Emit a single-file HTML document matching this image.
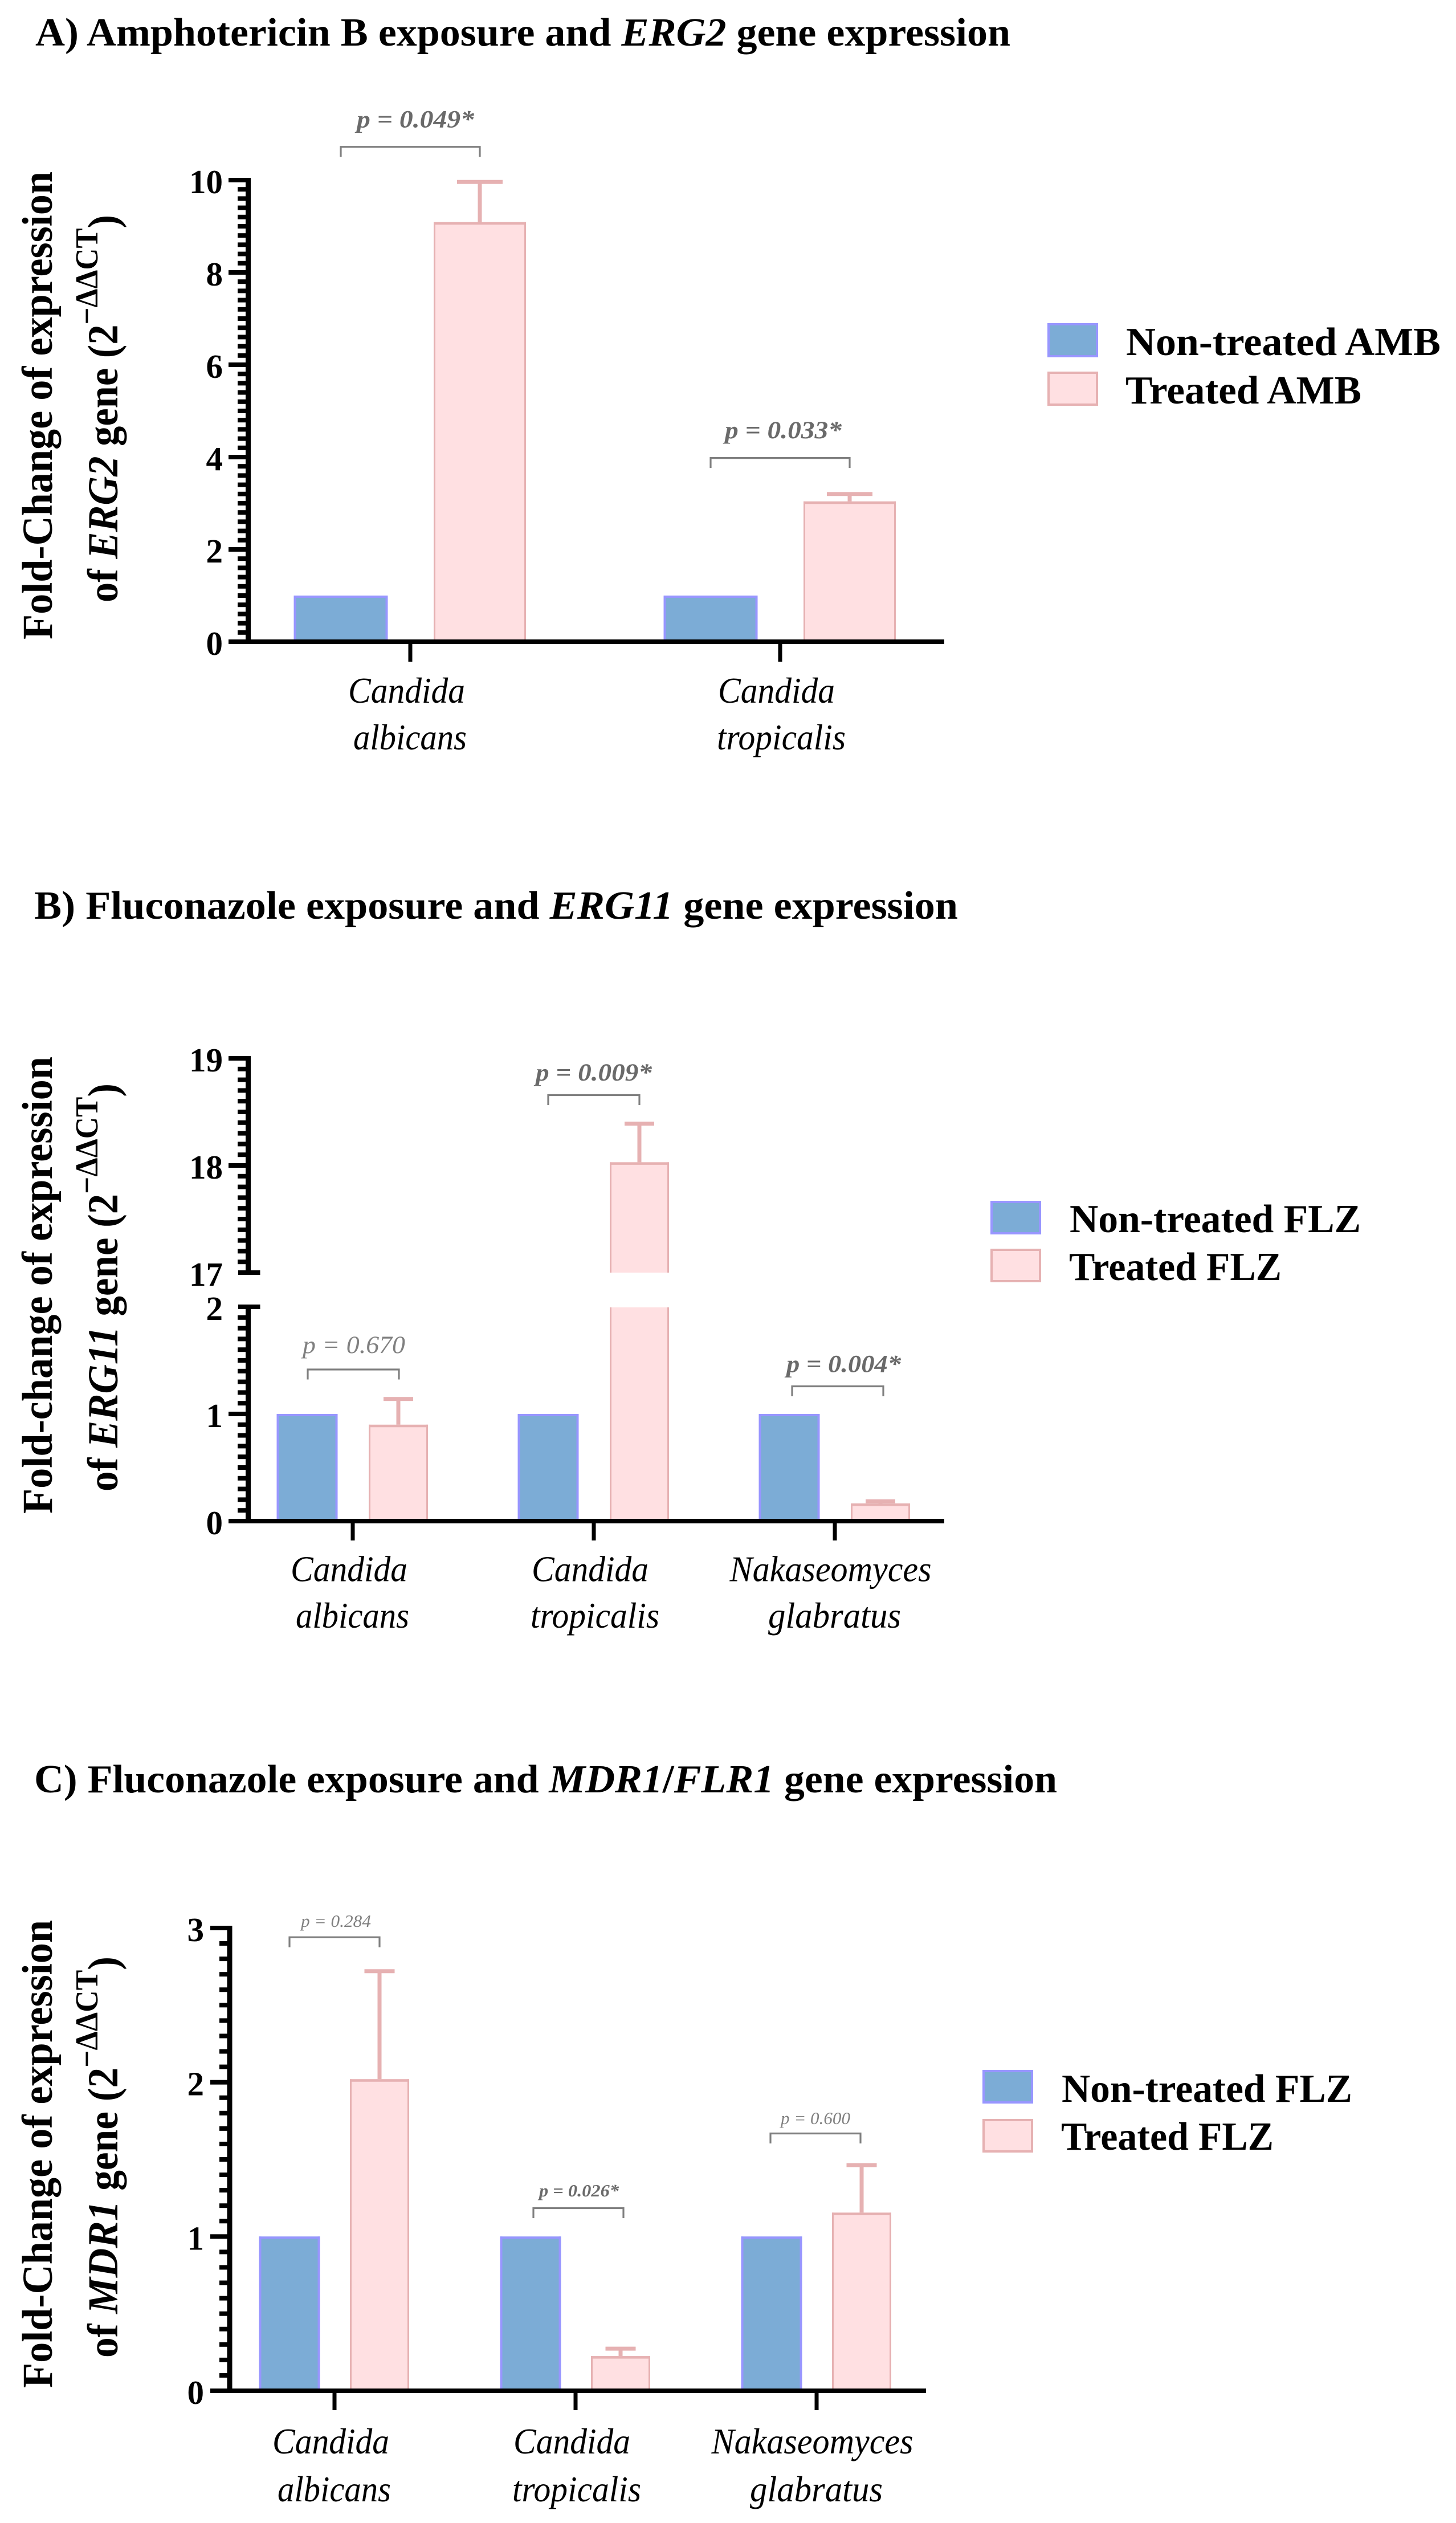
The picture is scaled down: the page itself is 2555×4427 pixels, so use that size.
<!DOCTYPE html>
<html lang="en">
<head>
<meta charset="utf-8">
<title>Gene expression fold-change charts</title>
<style>
html,body{margin:0;padding:0;background:#fff;}
svg{display:block;}
text{font-family:"Liberation Serif",serif;fill:#000;}
.head{font-size:70px;font-weight:bold;}
.ytitle{font-size:75px;font-weight:bold;}
.legend-text{font-size:70px;font-weight:bold;}
</style>
</head>
<body>
<svg id="figure" xmlns="http://www.w3.org/2000/svg" width="2555" height="4427" viewBox="0 0 2555 4427">
  <rect x="0" y="0" width="2555" height="4427" fill="#fff"/>

  <text class="head" x="62" y="80" textLength="1711" lengthAdjust="spacingAndGlyphs">A) Amphotericin B exposure and <tspan font-style="italic">ERG2</tspan> gene expression</text>
  <text class="head" x="60" y="1612" textLength="1621" lengthAdjust="spacingAndGlyphs">B) Fluconazole exposure and <tspan font-style="italic">ERG11</tspan> gene expression</text>
  <text class="head" x="60" y="3145" textLength="1795" lengthAdjust="spacingAndGlyphs">C) Fluconazole exposure and <tspan font-style="italic">MDR1</tspan>/<tspan font-style="italic">FLR1</tspan> gene expression</text>

  <text class="ytitle" transform="translate(91,1122) rotate(-90)" textLength="821" lengthAdjust="spacingAndGlyphs">Fold-Change of expression</text>
  <text class="ytitle" transform="translate(206,1057) rotate(-90)" textLength="680" lengthAdjust="spacingAndGlyphs">of <tspan font-style="italic">ERG2</tspan> gene (2<tspan dy="-35" font-size="56">−ΔΔCT</tspan><tspan dy="35">)</tspan></text>

  <text class="ytitle" transform="translate(91,2656) rotate(-90)" textLength="802" lengthAdjust="spacingAndGlyphs">Fold-change of expression</text>
  <text class="ytitle" transform="translate(206,2617) rotate(-90)" textLength="716" lengthAdjust="spacingAndGlyphs">of <tspan font-style="italic">ERG11</tspan> gene (2<tspan dy="-35" font-size="56">−ΔΔCT</tspan><tspan dy="35">)</tspan></text>

  <text class="ytitle" transform="translate(91,4190) rotate(-90)" textLength="821" lengthAdjust="spacingAndGlyphs">Fold-Change of expression</text>
  <text class="ytitle" transform="translate(206,4137) rotate(-90)" textLength="704" lengthAdjust="spacingAndGlyphs">of <tspan font-style="italic">MDR1</tspan> gene (2<tspan dy="-35" font-size="56">−ΔΔCT</tspan><tspan dy="35">)</tspan></text>

  <g>
    <rect x="1840" y="569" width="85" height="56" fill="#7CACD6" stroke="#9896FF" stroke-width="4"/>
    <text class="legend-text" x="1976" y="623" textLength="552" lengthAdjust="spacingAndGlyphs">Non-treated AMB</text>
    <rect x="1840" y="654" width="85" height="56" fill="#FFE0E2" stroke="#E6B1B2" stroke-width="4"/>
    <text class="legend-text" x="1975" y="708" textLength="414" lengthAdjust="spacingAndGlyphs">Treated AMB</text>
  </g>
  <g>
    <rect x="1740" y="2109" width="85" height="55" fill="#7CACD6" stroke="#9896FF" stroke-width="4"/>
    <text class="legend-text" x="1877" y="2162" textLength="511" lengthAdjust="spacingAndGlyphs">Non-treated FLZ</text>
    <rect x="1740" y="2193" width="85" height="55" fill="#FFE0E2" stroke="#E6B1B2" stroke-width="4"/>
    <text class="legend-text" x="1876" y="2246" textLength="373" lengthAdjust="spacingAndGlyphs">Treated FLZ</text>
  </g>
  <g>
    <rect x="1726" y="3634" width="85" height="55" fill="#7CACD6" stroke="#9896FF" stroke-width="4"/>
    <text class="legend-text" x="1863" y="3688" textLength="510" lengthAdjust="spacingAndGlyphs">Non-treated FLZ</text>
    <rect x="1726" y="3720" width="85" height="55" fill="#FFE0E2" stroke="#E6B1B2" stroke-width="4"/>
    <text class="legend-text" x="1862" y="3772" textLength="373" lengthAdjust="spacingAndGlyphs">Treated FLZ</text>
  </g>
</svg>

<script>
// ---- Panel A data ----
const categoriesA = ['Candida albicans', 'Candida tropicalis'];
const controlA = [1, 1];
const treatedA = [9.09, 3.04];
const errorTopA = [9.96, 3.2];
const bracketLevelA = [10.72, 3.98];
const pLabelsA = ['p = 0.049*', 'p = 0.033*'];
const tickLabelsA = [0, 2, 4, 6, 8, 10];

// ---- Panel B data ----
const categoriesB = ['Candida albicans', 'Candida tropicalis', 'Nakaseomyces glabratus'];
const controlB = [1, 1, 1];
const treatedB = [0.9, 18.03, 0.165];
const errorTopB = [1.14, 18.39, 0.185];
const bracketLevelB = [1.415, 18.657, 1.258];
const pLabelsB = ['p = 0.670', 'p = 0.009*', 'p = 0.004*'];
const tickLabelsB = [0, 1, 2, 17, 18, 19];

// ---- Panel C data ----
const categoriesC = ['Candida albicans', 'Candida tropicalis', 'Nakaseomyces glabratus'];
const controlC = [1, 1, 1];
const treatedC = [2.02, 0.225, 1.155];
const errorTopC = [2.72, 0.273, 1.463];
const bracketLevelC = [2.94, 1.184, 1.668];
const pLabelsC = ['p = 0.284', 'p = 0.026*', 'p = 0.600'];
const tickLabelsC = [0, 1, 2, 3];

// ---- Layout (not data) ----
const NS = 'http://www.w3.org/2000/svg';
const figure = document.getElementById('figure');
const BLUE = '#7CACD6', BLUE_EDGE = '#9896FF', PINK = '#FFE0E2', PINK_EDGE = '#E6B1B2', BRACKET = '#7F7F7F';
const wordFit = {
  Candida: { dx: -6.5, w: 205 },
  albicans: { dx: -0.5, w: 199 },
  tropicalis: { dx: 2, w: 226 },
  Nakaseomyces: { dx: -7.5, w: 354 },
  glabratus: { dx: -0.5, w: 233 }
};

function make(tag, attrs, parent) {
  const el = document.createElementNS(NS, tag);
  Object.keys(attrs).forEach(function (k) { el.setAttribute(k, attrs[k]); });
  parent.appendChild(el);
  return el;
}
function label(el, name) {
  
  
  return el;
}

function drawBarBody(parent, cx, w, top, bottom, fill, edge, edgeW, withTop, topThick) {
  const x = cx - w / 2;
  make('rect', { x: x, y: top, width: w, height: bottom - top, fill: fill }, parent);
  make('rect', { x: x, y: top, width: edgeW, height: bottom - top, fill: edge }, parent);
  make('rect', { x: x + w - edgeW, y: top, width: edgeW, height: bottom - top, fill: edge }, parent);
  if (withTop) {
    make('rect', { x: x, y: top, width: w, height: topThick, fill: edge }, parent);
  }
}

function drawChart(cfg) {
  const root = label(make('g', {}, figure), cfg.name + '-chart');
  const y = cfg.y;
  const tickX = function (i) { return cfg.x0 + i * cfg.step; };
  const barBottom = y(0) - 3;

  cfg.categories.forEach(function (cat, i) {
    const c = tickX(i);
    const group = label(make('g', {}, root), cfg.name + '-group-' + cat.toLowerCase().replace(/\s+/g, '-'));

    // control bar
    const bc = label(make('g', {}, group), 'bar-non-treated');
    drawBarBody(bc, c - cfg.off, cfg.barW, y(cfg.control[i]), barBottom, BLUE, BLUE_EDGE, 4, true, 4);

    // treated bar (split across the axis break when needed)
    const bt = label(make('g', {}, group), 'bar-treated');
    const px = c + cfg.off;
    const v = cfg.treated[i];
    const pw = cfg.barW - 3;
    if (cfg.breakHigh !== undefined && v >= cfg.breakHigh) {
      drawBarBody(bt, px, pw, y(cfg.breakLow) + 1, barBottom, PINK, PINK_EDGE, 3, false, 0);
      drawBarBody(bt, px, pw, y(v), y(cfg.breakHigh), PINK, PINK_EDGE, 3, true, 4.5);
    } else {
      drawBarBody(bt, px, pw, y(v), barBottom, PINK, PINK_EDGE, 3, true, 4.5);
    }

    // error bar
    const eb = label(make('g', {}, group), 'error-bar-treated');
    const et = y(cfg.errorTop[i]);
    make('rect', { x: px - 3.5, y: et, width: 7, height: y(v) - et, fill: PINK_EDGE }, eb);
    make('rect', { x: px - cfg.capW / 2, y: et - 3.5, width: cfg.capW, height: 7, fill: PINK_EDGE }, eb);

    // significance bracket
    const fit = cfg.pFit[i];
    const by = y(cfg.bracket[i]);
    const bl = c - cfg.off + fit.bx;
    const br = c + cfg.off + fit.bx;
    const bracket = make('path', {
      d: 'M' + bl + ' ' + (by + 17.5) + 'V' + by + 'H' + br + 'V' + (by + 17.5),
      fill: 'none', stroke: BRACKET, 'stroke-width': 3.2
    }, group);
    label(bracket, 'significance-bracket');

    const pt = make('text', {
      x: c + fit.dx, y: by - fit.dy, 'text-anchor': 'middle',
      'font-size': cfg.pSize, 'font-style': 'italic', 'font-weight': fit.bold ? 'bold' : 'normal',
      textLength: fit.w, lengthAdjust: 'spacingAndGlyphs'
    }, group);
    pt.style.fill = fit.bold ? '#6A6A6A' : '#808080';
    pt.textContent = cfg.pLabels[i];
    label(pt, 'p-value-label');

    // x tick + category label
    const xt = make('rect', { x: c - 3.5, y: y(0), width: 7, height: cfg.xTickEnd - y(0), fill: '#000' }, group);
    label(xt, 'x-axis-tick');
    cat.split(' ').forEach(function (word, j) {
      const f = wordFit[word];
      const t = make('text', {
        x: c + f.dx, y: y(0) + cfg.catOffsets[j], 'text-anchor': 'middle',
        'font-size': 64, 'font-style': 'italic', textLength: f.w, lengthAdjust: 'spacingAndGlyphs'
      }, group);
      t.textContent = word;
      label(t, 'x-axis-category-label');
    });
  });

  // y axis
  const axis = label(make('g', {}, root), cfg.name + '-y-axis');
  cfg.segments.forEach(function (seg) {
    make('rect', { x: cfg.spineX - 4.5, y: y(seg.to) - 4, width: 9, height: y(seg.from) - y(seg.to) + 8, fill: '#000' }, axis);
    const count = Math.round((seg.to - seg.from) / seg.step);
    for (let k = 0; k <= count; k++) {
      const v = seg.from + k * seg.step;
      const isMajor = cfg.ticks.some(function (m) { return Math.abs(m - v) < 1e-6; });
      if (!isMajor) {
        make('rect', { x: cfg.minorLeft, y: y(v) - 4, width: cfg.spineX - cfg.minorLeft, height: 8, fill: '#000' }, axis);
      }
    }
  });
  cfg.ticks.forEach(function (v) {
    const isBreakEnd = cfg.breakHigh !== undefined && (v === cfg.breakHigh || v === cfg.breakLow);
    const tickLeft = isBreakEnd ? cfg.minorLeft + 1 : cfg.majorLeft;
    const tickRight = isBreakEnd ? cfg.spineX + 21 : cfg.spineX;
    const tick = make('rect', { x: tickLeft, y: y(v) - 4, width: tickRight - tickLeft, height: 8, fill: '#000' }, axis);
    label(tick, 'y-axis-tick');
    const t = make('text', {
      x: cfg.labelRight, y: y(v) + 23, 'text-anchor': 'end', 'font-size': 59, 'font-weight': 'bold'
    }, axis);
    t.textContent = String(v);
    label(t, 'y-axis-tick-label');
  });

  // x axis line
  const xAxis = make('rect', { x: cfg.majorLeft, y: y(0) - 4, width: cfg.xEnd - cfg.majorLeft, height: 8, fill: '#000' }, root);
  label(xAxis, cfg.name + '-x-axis');
}

drawChart({
  name: 'panel-a', categories: categoriesA, control: controlA, treated: treatedA,
  errorTop: errorTopA, bracket: bracketLevelA, pLabels: pLabelsA, ticks: tickLabelsA,
  y: function (v) { return 1126 - v * 81; },
  segments: [{ from: 0, to: 10, step: 0.2 }],
  x0: 720, step: 649, off: 122, barW: 165, capW: 80,
  spineX: 435.5, majorLeft: 401, minorLeft: 417, labelRight: 391, xEnd: 1657, xTickEnd: 1161,
  catOffsets: [107, 189], pSize: 43,
  pFit: [
    { dx: 9, dy: 34, w: 206, bx: 0, bold: true },
    { dx: 5.5, dy: 34.5, w: 205, bx: 0, bold: true }
  ]
});

drawChart({
  name: 'panel-b', categories: categoriesB, control: controlB, treated: treatedB,
  errorTop: errorTopB, bracket: bracketLevelB, pLabels: pLabelsB, ticks: tickLabelsB,
  y: function (v) { return v >= 17 ? 2233 - (v - 17) * 188 : 2669 - v * 188; },
  segments: [{ from: 0, to: 2, step: 0.1 }, { from: 17, to: 19, step: 0.1 }],
  breakHigh: 17, breakLow: 2,
  x0: 619, step: 423, off: 80, barW: 107, capW: 52,
  spineX: 435.5, majorLeft: 401, minorLeft: 417, labelRight: 391, xEnd: 1657, xTickEnd: 2703,
  catOffsets: [105.5, 187], pSize: 43,
  pFit: [
    { dx: 2, dy: 29, w: 180, bx: 1, bold: false },
    { dx: 0, dy: 25.5, w: 204, bx: 0, bold: true },
    { dx: 15.5, dy: 25, w: 201, bx: 5, bold: true }
  ]
});

drawChart({
  name: 'panel-c', categories: categoriesC, control: controlC, treated: treatedC,
  errorTop: errorTopC, bracket: bracketLevelC, pLabels: pLabelsC, ticks: tickLabelsC,
  y: function (v) { return 4195 - v * 270.67; },
  segments: [{ from: 0, to: 3, step: 0.1 }],
  x0: 587, step: 423, off: 79, barW: 107, capW: 53,
  spineX: 403, majorLeft: 369, minorLeft: 385, labelRight: 358, xEnd: 1625, xTickEnd: 4229,
  catOffsets: [110, 194], pSize: 31,
  pFit: [
    { dx: 2.5, dy: 18, w: 123, bx: 0, bold: false },
    { dx: 6, dy: 20.5, w: 140, bx: 5, bold: true },
    { dx: -2, dy: 16.5, w: 122, bx: -2, bold: false }
  ]
});
</script>
</body>
</html>
